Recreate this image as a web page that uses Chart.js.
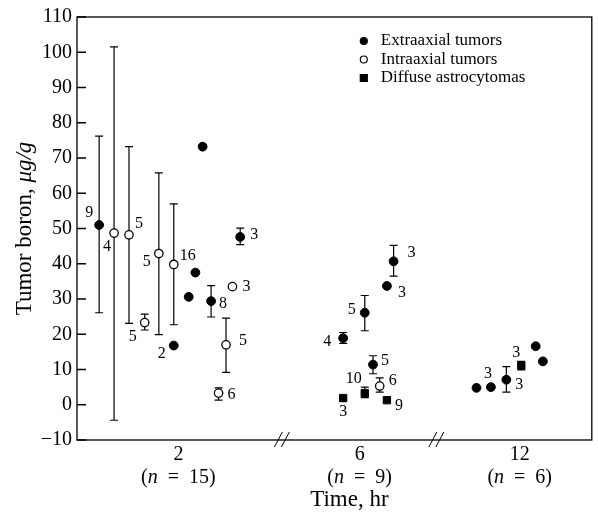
<!DOCTYPE html>
<html>
<head>
<meta charset="utf-8">
<script src="https://cdn.jsdelivr.net/npm/chart.js@4.4.0/dist/chart.umd.min.js"></script>
<style>
  html, body { margin: 0; padding: 0; background: #fff; }
</style>
</head>
<body>
<canvas id="chart" width="598" height="521"></canvas>
<script>
const FONT = "'Liberation Serif', 'Times New Roman', serif";

// broken time axis: x is a plot position 0..100, groups sit at these spots
const groupPos = [19.7, 54.9, 86.0];
const groupHours = ['2', '6', '12'];
const groupN = ['15', '9', '6'];
const breakPos = [39.8, 69.8];

// Extraaxial tumors (filled circles)
const extraX = [4.3, 18.8, 21.7, 23.0, 24.4, 26.05, 31.7, 51.7, 55.9, 57.5, 60.2, 61.5, 77.6, 80.4, 83.4, 89.1, 90.5];
const extraY = [51.0, 16.8, 30.6, 37.5, 73.2, 29.4, 47.6, 18.9, 26.1, 11.4, 33.7, 40.7, 4.8, 5.0, 7.1, 16.6, 12.3];
const extraLo = [26.1, null, null, null, null, 24.9, 45.4, 17.4, 21.0, 8.8, null, 36.5, null, null, 3.6, null, null];
const extraHi = [76.2, null, null, null, null, 33.8, 50.1, 20.5, 31.0, 13.9, null, 45.2, null, null, 10.8, null, null];
const extraN = ['9', '2', '', '', '', '8', '3', '4', '5', '5', '3', '3', '', '3', '3', '', ''];

// Intraaxial tumors (open circles)
const intraX = [7.2, 10.1, 13.15, 15.9, 18.8, 27.5, 28.95, 30.2, 58.8];
const intraY = [48.7, 48.2, 23.3, 42.9, 39.8, 3.3, 17.0, 33.5, 5.3];
const intraLo = [-4.4, 23.1, 21.2, 19.9, 22.7, 1.3, 9.2, null, 3.6];
const intraHi = [101.5, 73.2, 25.7, 65.8, 57.0, 4.8, 24.6, null, 7.6];
const intraN = ['4', '5', '5', '5', '16', '6', '5', '3', '6'];

// Diffuse astrocytomas (squares)
const diffX = [51.7, 55.9, 60.2, 86.3];
const diffY = [1.9, 3.3, 1.3, 11.1];
const diffLo = [null, 2.0, null, 9.9];
const diffHi = [null, 5.0, null, 12.3];
const diffN = ['3', '10', '9', '3'];

// where each n label sits relative to its point (px)
const extraLabelOff = [[-10, -12], [-12, 8], null, null, null, [12, 3], [14, -2], [-16, 4], [-13, -3], [12, -4], [15, 7], [18, -8], null, [-3, -13], [13, 5], null, null];
const intraLabelOff = [[-7, 14], [10, -11], [-12, 14], [-12, 8], [14, -9], [13, 2], [17, -4], [14, 0], [13, -5]];
const diffLabelOff = [[0, 14], [-11, -14], [12, 6], [-5, -13]];

function points(xs, ys, lo, hi, n, off) {
    return xs.map((x, i) => ({ x, y: ys[i], lo: lo[i], hi: hi[i], n: n[i], off: off[i] }));
}

function drawRich(ctx, parts, cx, cy, size) {
    let w = 0;
    parts.forEach(([t, it]) => {
        ctx.font = (it ? 'italic ' : '') + size + 'px ' + FONT;
        w += ctx.measureText(t).width;
    });
    let x = cx - w / 2;
    ctx.textAlign = 'left';
    ctx.textBaseline = 'middle';
    parts.forEach(([t, it]) => {
        ctx.font = (it ? 'italic ' : '') + size + 'px ' + FONT;
        ctx.fillText(t, x, cy);
        x += ctx.measureText(t).width;
    });
}

const errorBars = {
    id: 'errorBars',
    beforeDatasetsDraw(chart) {
        const { ctx, scales: { x, y } } = chart;
        ctx.save();
        ctx.strokeStyle = '#000';
        ctx.lineWidth = 1.2;
        chart.data.datasets.forEach(ds => {
            ds.data.forEach(p => {
                if (p.lo == null) return;
                const px = x.getPixelForValue(p.x);
                const top = y.getPixelForValue(p.hi);
                const bot = y.getPixelForValue(p.lo);
                ctx.beginPath();
                ctx.moveTo(px, top); ctx.lineTo(px, bot);
                ctx.moveTo(px - 4, top); ctx.lineTo(px + 4, top);
                ctx.moveTo(px - 4, bot); ctx.lineTo(px + 4, bot);
                ctx.stroke();
            });
        });
        ctx.restore();
    }
};

const frame = {
    id: 'frame',
    beforeDatasetsDraw(chart) {
        const { ctx, chartArea: a, scales: { x, y } } = chart;
        ctx.save();
        ctx.strokeStyle = '#000';
        ctx.lineWidth = 1.3;
        ctx.strokeRect(a.left, a.top, a.right - a.left, a.bottom - a.top);
        ctx.beginPath();
        y.ticks.forEach(t => {
            const py = y.getPixelForValue(t.value);
            ctx.moveTo(a.left, py); ctx.lineTo(a.left + 9, py);
        });
        ctx.stroke();
        // axis breaks
        ctx.lineWidth = 1;
        breakPos.forEach(b => {
            const px = x.getPixelForValue(b);
            ctx.beginPath();
            [-3.5, 3.5].forEach(d => {
                ctx.moveTo(px + d - 4, a.bottom + 7);
                ctx.lineTo(px + d + 4, a.bottom - 8);
            });
            ctx.stroke();
        });
        ctx.restore();
    }
};

const nLabels = {
    id: 'nLabels',
    afterDatasetsDraw(chart) {
        const { ctx } = chart;
        ctx.save();
        ctx.fillStyle = '#000';
        ctx.font = '16px ' + FONT;
        ctx.textAlign = 'center';
        ctx.textBaseline = 'middle';
        chart.data.datasets.forEach((ds, di) => {
            const meta = chart.getDatasetMeta(di);
            ds.data.forEach((p, i) => {
                if (!p.n || !p.off) return;
                const el = meta.data[i];
                ctx.fillText(p.n, el.x + p.off[0], el.y + p.off[1]);
            });
        });
        ctx.restore();
    }
};

const texts = {
    id: 'texts',
    afterDraw(chart) {
        const { ctx, chartArea: a, scales: { x } } = chart;
        ctx.save();
        ctx.fillStyle = '#000';
        // group labels
        groupPos.forEach((g, i) => {
            const px = x.getPixelForValue(g);
            drawRich(ctx, [[groupHours[i], false]], px, a.bottom + 15, 20);
            drawRich(ctx, [['(', false], ['n', true], ['\u2002=\u2002' + groupN[i] + ')', false]], px, a.bottom + 38, 20);
        });
        drawRich(ctx, [['Time, hr', false]], (a.left + a.right) / 2 + 15, a.bottom + 60, 23);
        // y title
        ctx.translate(25, (a.top + a.bottom) / 2);
        ctx.rotate(-Math.PI / 2);
        drawRich(ctx, [['Tumor boron, ', false], ['\u03bcg/g', true]], 0, 0, 23);
        ctx.restore();

        // legend
        ctx.save();
        const lx = a.right - 228;
        chart.data.datasets.forEach((ds, i) => {
            const ly = a.top + 24 + i * 18.5;
            ctx.fillStyle = ds.backgroundColor;
            ctx.strokeStyle = '#000';
            ctx.lineWidth = 1.2;
            ctx.beginPath();
            if (ds.pointStyle === 'rect') {
                ctx.rect(lx - 3.5, ly - 3.5, 7, 7);
            } else {
                ctx.arc(lx, ly, 3.5, 0, Math.PI * 2);
            }
            ctx.fill();
            ctx.stroke();
            ctx.fillStyle = '#000';
            ctx.font = '17px ' + FONT;
            ctx.textAlign = 'left';
            ctx.textBaseline = 'middle';
            ctx.fillText(ds.label, lx + 17, ly);
        });
        ctx.restore();
    }
};

new Chart(document.getElementById('chart'), {
    type: 'scatter',
    data: {
        datasets: [{
            label: 'Extraaxial tumors',
            data: points(extraX, extraY, extraLo, extraHi, extraN, extraLabelOff),
            pointStyle: 'circle',
            pointRadius: 4.4,
            backgroundColor: '#000',
            borderColor: '#000',
            borderWidth: 1
        }, {
            label: 'Intraaxial tumors',
            data: points(intraX, intraY, intraLo, intraHi, intraN, intraLabelOff),
            pointStyle: 'circle',
            pointRadius: 4.2,
            backgroundColor: '#fff',
            borderColor: '#000',
            borderWidth: 1.3
        }, {
            label: 'Diffuse astrocytomas',
            data: points(diffX, diffY, diffLo, diffHi, diffN, diffLabelOff),
            pointStyle: 'rect',
            pointRadius: 5.2,
            backgroundColor: '#000',
            borderColor: '#000',
            borderWidth: 1
        }]
    },
    options: {
        responsive: false,
        animation: false,
        events: [],
        layout: { padding: { top: 14, right: 4, left: 0, bottom: 0 } },
        plugins: { legend: { display: false }, tooltip: { enabled: false } },
        scales: {
            x: {
                type: 'linear', min: 0, max: 100,
                ticks: { display: false },
                grid: { display: false, drawTicks: false },
                border: { display: false },
                afterFit(s) { s.height = 81; }
            },
            y: {
                min: -10, max: 110,
                ticks: {
                    stepSize: 10, color: '#000', padding: 5,
                    font: { family: FONT, size: 20 },
                    callback(value) { return String(value).replace('-', '\u2212'); }
                },
                grid: { display: false, drawTicks: false },
                border: { display: false },
                afterFit(s) { s.width = 77; }
            }
        }
    },
    plugins: [frame, errorBars, nLabels, texts]
});
</script>
</body>
</html>
